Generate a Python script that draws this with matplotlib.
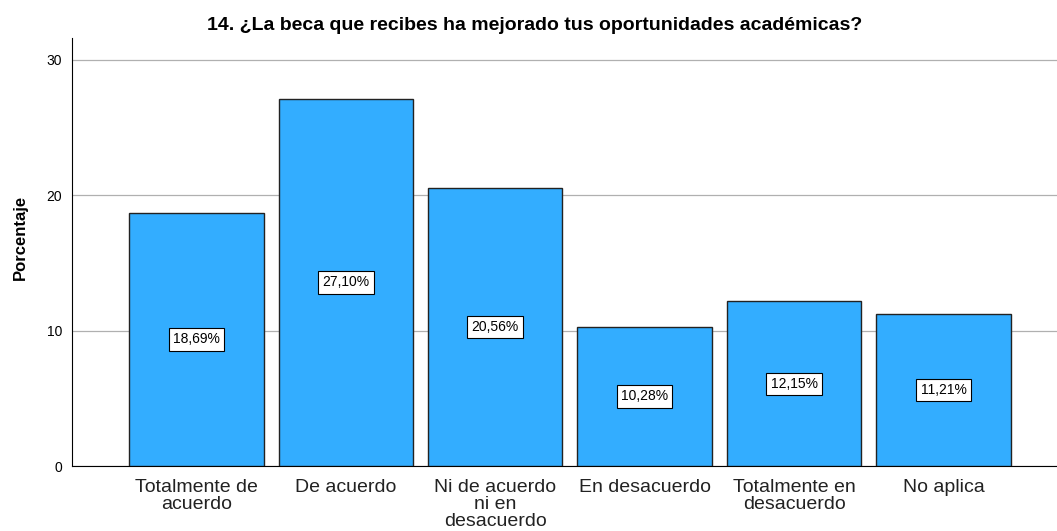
import matplotlib
matplotlib.use("Agg")
import matplotlib.pyplot as plt

categories = ["Totalmente de\nacuerdo", "De acuerdo", "Ni de acuerdo\nni en\ndesacuerdo",
              "En desacuerdo", "Totalmente en\ndesacuerdo", "No aplica"]
values = [18.69, 27.10, 20.56, 10.28, 12.15, 11.21]
yticks = [0, 10, 20, 30]
title = "14. ¿La beca que recibes ha mejorado tus oportunidades académicas?"

plt.rcParams['font.family'] = ['Liberation Sans', 'DejaVu Sans']

fig = plt.figure(figsize=(10.57, 5.31), dpi=100)
ax = fig.add_axes([0.0681, 0.1224, 0.9319, 0.806])

x = list(range(len(values)))
ax.bar(x, values, width=0.90, color="#33ADFF", edgecolor="#222222", linewidth=1.0, zorder=3)
for xi, v in zip(x, values):
    ax.text(xi, v / 2, f"{v:.2f}%".replace(".", ","), ha="center", va="center",
            fontsize=10, zorder=4,
            bbox=dict(boxstyle="square,pad=0.3", facecolor="white", edgecolor="black", linewidth=0.8))

ax.set_xlim(-0.833, 5.76)
ax.set_ylim(0, 31.6)
ax.set_yticks(yticks)
ax.set_yticklabels([str(t) for t in yticks], fontsize=10)
ax.set_xticks(x)
ax.set_xticklabels(categories, fontsize=14, color="#222222", linespacing=1.02)
ax.tick_params(axis="x", length=0, pad=9)
ax.tick_params(axis="y", length=0, pad=7)
ax.yaxis.grid(True, color="#b0b0b0", linewidth=0.9, zorder=0)
ax.set_axisbelow(True)
for s in ["top", "right"]:
    ax.spines[s].set_visible(False)
ax.spines["left"].set_color("black")
ax.spines["bottom"].set_color("black")
ax.set_ylabel("Porcentaje", fontsize=12, fontweight="bold")
ax.yaxis.set_label_coords(-0.045, 0.535)
fig.text(0.506, 1 - 26 / 531, title, fontsize=14, fontweight="bold", ha="center", va="center")

fig.savefig("out.png", dpi=100)
